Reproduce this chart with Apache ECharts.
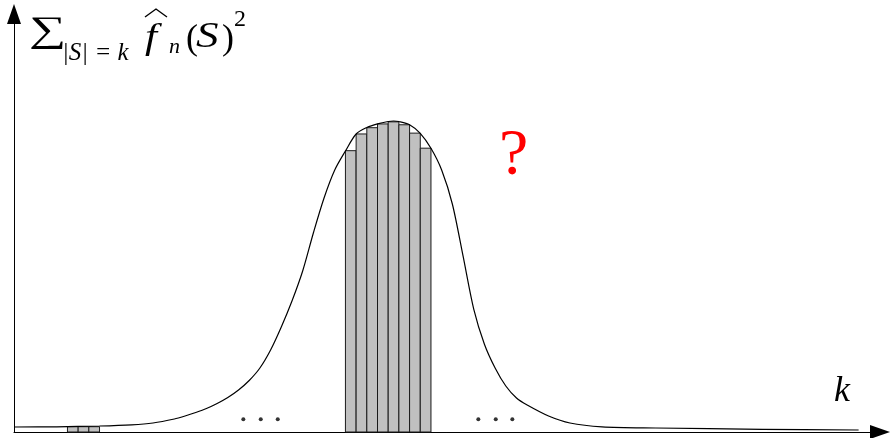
<!DOCTYPE html>
<html>
<head>
<meta charset="utf-8">
<script src="https://cdn.jsdelivr.net/npm/echarts@6/dist/echarts.min.js"></script>
<style>
  html, body { margin: 0; padding: 0; background: #fff; }
  #chart { width: 890px; height: 438px; }
</style>
</head>
<body>
<div id="chart"></div>
<script>
// Fourier weight per degree level: bell-shaped envelope and sampled bars.
var kMax = 81;
var yMax = 100;

// central bars (left edge of each unit-width bar, weight)
var centerBarK = [31, 32, 33, 34, 35, 36, 37, 38];
var centerBarW = [67.3, 71.3, 72.8, 73.7, 74.2, 73.5, 71.5, 67.9];

// low-degree bars near the origin
var lowBarK = [5, 6, 7];
var lowBarW = [1.27, 1.27, 1.27];

// envelope curve samples [k, weight]
var curveK = [0, 4, 8, 11, 13, 15, 16, 17, 18, 19, 20, 21, 22, 23, 24, 25, 26, 27, 28, 29, 30, 31, 32, 33, 34, 35, 35.5, 36, 37, 38, 39, 40, 41, 42, 43, 44, 45, 46, 47, 48, 50, 52, 55, 60, 70, 79];
var curveW = [1.20, 1.24, 1.44, 1.72, 2.15, 3.11, 3.83, 4.67, 5.62, 6.82, 8.25, 10.05, 12.32, 15.31, 19.62, 25.12, 31.34, 38.52, 47.61, 55.98, 62.68, 67.22, 71.29, 72.85, 73.73, 74.28, 74.40, 74.28, 73.52, 71.46, 67.87, 62.68, 54.55, 42.11, 29.40, 21.00, 15.31, 11.00, 8.13, 6.46, 3.83, 2.15, 1.24, 0.96, 0.65, 0.48];

// ellipsis dots marking omitted degrees
var dotsK = [21.45, 23.08, 24.67, 43.43, 45.06, 46.61];
var dotsW = [3.04, 3.04, 3.04, 3.04, 3.04, 3.04];

function pairs(xs, ys) {
  return xs.map(function (x, i) { return [x, ys[i]]; });
}

function renderBar(params, api) {
  var k = api.value(0);
  var w = api.value(1);
  var p0 = api.coord([k, w]);
  var p1 = api.coord([k + 1, 0]);
  return {
    type: 'rect',
    shape: { x: p0[0], y: p0[1], width: p1[0] - p0[0], height: p1[1] - p0[1] },
    style: { fill: '#c0c0c0', stroke: '#1a1a1a', lineWidth: 1 }
  };
}

var chart = echarts.init(document.getElementById('chart'), null, { renderer: 'canvas' });

var serif = '"Liberation Serif", "DejaVu Serif", serif';

function label(x, y, text, font, extra) {
  var el = { type: 'text', x: x, y: y,
    style: { text: text, font: font, fill: '#000', align: 'left', verticalAlign: 'bottom' } };
  if (extra) { for (var key in extra) { el[key] = extra[key]; } }
  return el;
}

chart.setOption({
  animation: false,
  backgroundColor: '#fff',
  grid: { left: 14, right: 10, top: 14, bottom: 6, containLabel: false },
  xAxis: {
    type: 'value', min: 0, max: kMax,
    axisLine: { show: true, onZero: false, lineStyle: { color: '#000', width: 1 },
      symbol: ['none', 'triangle'], symbolSize: [14, 20] },
    axisTick: { show: false }, axisLabel: { show: false }, splitLine: { show: false }
  },
  yAxis: {
    type: 'value', min: 0, max: yMax,
    axisLine: { show: true, onZero: false, lineStyle: { color: '#000', width: 1 },
      symbol: ['none', 'triangle'], symbolSize: [14, 20] },
    axisTick: { show: false }, axisLabel: { show: false }, splitLine: { show: false }
  },
  series: [
    {
      type: 'custom', name: 'central', renderItem: renderBar,
      data: pairs(centerBarK, centerBarW), z: 2
    },
    {
      type: 'custom', name: 'low', renderItem: renderBar,
      data: pairs(lowBarK, lowBarW), z: 2
    },
    {
      type: 'line', name: 'envelope', data: pairs(curveK, curveW),
      smooth: 0.3, showSymbol: false, symbol: 'none',
      lineStyle: { color: '#000', width: 1.2 }, z: 3
    },
    {
      type: 'scatter', name: 'dots', data: pairs(dotsK, dotsW),
      symbol: 'circle', symbolSize: 4, itemStyle: { color: '#000' }, z: 3
    }
  ],
  graphic: [
    // y-axis title: sum over |S|=k of squared Fourier coefficients
    label(29, 50, '\u2211', '36px ' + serif, { scaleX: 1.45 }),
    label(62, 66, '|S| = k', 'italic 25px ' + serif),
    label(145, 57, 'f', 'italic 36px ' + serif, { scaleX: 1.2 }),
    { type: 'polyline', shape: { points: [[145, 17], [156, 9], [167, 17]] },
      style: { stroke: '#000', lineWidth: 1.4, fill: null } },
    label(169, 58, 'n', 'italic 22px ' + serif),
    label(186, 58, '(', '36px ' + serif),
    label(196, 56, 'S', 'italic 36px ' + serif, { scaleX: 1.25 }),
    label(222, 58, ')', '36px ' + serif),
    label(234, 32, '2', '24px ' + serif),
    // x-axis title
    label(834, 410, 'k', 'italic 36px ' + serif),
    // open question mark
    { type: 'text', x: 499, y: 190,
      style: { text: '?', font: '66px ' + serif, fill: '#ff0000', align: 'left', verticalAlign: 'bottom' } }
  ]
});
</script>
</body>
</html>
